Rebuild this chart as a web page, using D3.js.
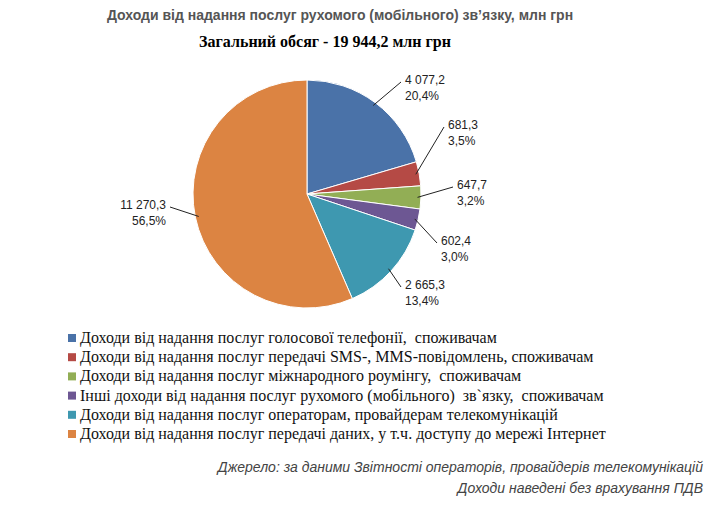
<!DOCTYPE html>
<html><head><meta charset="utf-8">
<script src="https://cdn.jsdelivr.net/npm/d3@7"></script>
<style>body{margin:0;background:#fff} text{white-space:pre}</style></head>
<body><svg id="c" width="716" height="507"></svg>
<script>
const categories = [
 "Доходи від надання послуг голосової телефонії,  споживачам",
 "Доходи від надання послуг передачі SMS-, MMS-повідомлень, споживачам",
 "Доходи від надання послуг міжнародного роумінгу,  споживачам",
 "Інші доходи від надання послуг рухомого (мобільного)  зв`язку,  споживачам",
 "Доходи від надання послуг операторам, провайдерам телекомунікацій",
 "Доходи від надання послуг передачі даних, у т.ч. доступу до мережі Інтернет"];
const values = [4077.2, 681.3, 647.7, 602.4, 2665.3, 11270.3];
const valueLabels = ["4 077,2","681,3","647,7","602,4","2 665,3","11 270,3"];
const pctLabels = ["20,4%","3,5%","3,2%","3,0%","13,4%","56,5%"];
const colors = ["#4a72a8","#b54a45","#92ae55","#6d5793","#3e98b0","#dc8442"];
// label layout: [x, y, anchor]
const labelPos = [[405,86,"start"],[448,131,"start"],[457,191,"start"],[441,247,"start"],[405,291,"start"],[166,211,"end"]];

const svg = d3.select("#c");
const cx=307, cy=194, R=114;
svg.append("text").attr("x",340).attr("y",20).attr("text-anchor","middle")
  .attr("font-family","Liberation Sans, Arial").attr("font-weight","bold").attr("font-size",14).attr("fill","#555")
  .text("Доходи від надання послуг рухомого (мобільного) зв’язку, млн грн");
svg.append("text").attr("x",325).attr("y",47).attr("text-anchor","middle")
  .attr("font-family","Liberation Serif, Times New Roman").attr("font-weight","bold").attr("font-size",16)
  .text("Загальний обсяг - 19 944,2 млн грн");

const pie = d3.pie().sort(null)(values);
const arc = d3.arc().innerRadius(0).outerRadius(R);
const g = svg.append("g").attr("transform",`translate(${cx},${cy})`);
g.selectAll("path").data(pie).join("path").attr("d",arc).attr("fill",(d,i)=>colors[i])
  .attr("stroke","#fff").attr("stroke-width",1);

pie.forEach((d,i)=>{
  const a=(d.startAngle+d.endAngle)/2;
  const p0=[cx+Math.sin(a)*R*0.97, cy-Math.cos(a)*R*0.97];
  const [lx,ly,anc]=labelPos[i];
  const ex = anc==="start" ? lx-4 : lx+4;
  const ey = ly-4;
  svg.append("polyline").attr("points",`${p0[0]},${p0[1]} ${ex},${ey}`)
    .attr("fill","none").attr("stroke","#222").attr("stroke-width",1);
  const t=svg.append("text").attr("x",lx).attr("y",ly).attr("text-anchor",anc)
    .attr("font-family","Liberation Sans, Arial").attr("font-size",12).attr("fill","#222");
  t.append("tspan").attr("x",lx).attr("dy",-2).text(valueLabels[i]);
  t.append("tspan").attr("x",lx).attr("dy",16).text(pctLabels[i]);
});

const lg = svg.append("g");
categories.forEach((c,i)=>{
  const y=343+i*19.2;
  lg.append("rect").attr("x",68).attr("y",y-9).attr("width",8).attr("height",8).attr("fill",colors[i]);
  lg.append("text").attr("x",80).attr("y",y).attr("font-family","Liberation Serif, Times New Roman")
    .attr("font-size",16).attr("fill","#111").attr("xml:space","preserve").text(c);
});
["Джерело: за даними Звітності операторів, провайдерів телекомунікацій","Доходи наведені без врахування ПДВ"].forEach((s,i)=>{
  svg.append("text").attr("x",703).attr("y",472+i*21).attr("text-anchor","end")
    .attr("font-family","Liberation Sans, Arial").attr("font-style","italic").attr("font-size",14).attr("fill","#444").text(s);
});
</script></body></html>
